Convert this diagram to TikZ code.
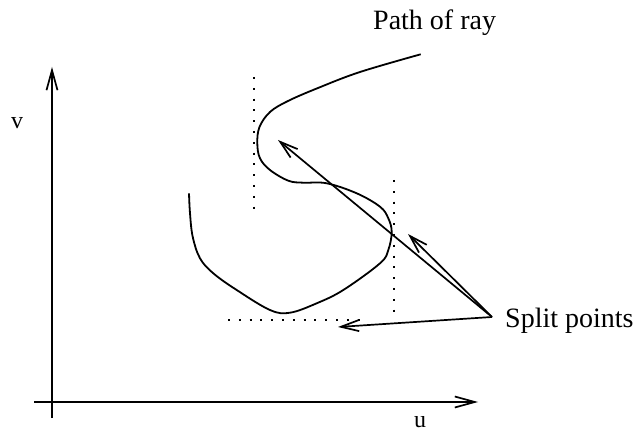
\documentclass[tikz,border=0pt]{standalone}
\usepackage{fontspec}
\setmainfont{Liberation Serif}
\usetikzlibrary{arrows.meta}
\tikzset{
  axis/.style={line width=1.7pt,-{Straight Barb[length=20pt,width=11pt,line width=1.7pt]}},
  ray/.style={line width=1.8pt},
  ptr/.style={line width=1.7pt,-{Straight Barb[length=18pt,width=11pt,line width=1.7pt]}},
  guide/.style={line width=2pt,dash pattern=on 2pt off 8.8pt},
  lbl/.style={inner sep=0pt,font=\fontsize{28}{30}\selectfont},
  axlbl/.style={inner sep=0pt,font=\fontsize{24}{26}\selectfont}
}
\begin{document}
\begin{tikzpicture}[x=1pt,y=-1pt]
\useasboundingbox (0,0) rectangle (641,441);
% axes
\coordinate (vb) at (52,418);
\coordinate (vt) at (52,67);
\coordinate (ul) at (34,402);
\coordinate (ur) at (478,402);
\draw[axis] (vb) -- (vt);
\draw[axis] (ul) -- (ur);
\node[axlbl] (v) at (17,123) {v};
\node[axlbl] (u) at (420,422) {u};
% dotted guides
\coordinate (g1a) at (254,77);
\coordinate (g1b) at (254,212);
\coordinate (g2a) at (394,180);
\coordinate (g2b) at (394,314);
\coordinate (g3a) at (228,320);
\coordinate (g3b) at (364,320);
\draw[guide] (g1a) -- (g1b);
\draw[guide] (g2a) -- (g2b);
\draw[guide] (g3a) -- (g3b);
% path of ray
\draw[ray] plot[smooth,tension=0.6] coordinates {
(420.7,54.3) (360,72) (318,88) (288,101) (270,112) (259.5,127)
(257.3,143.3) (260,158.3) (270,170) (288.3,180.7) (303.3,182.7) (326.7,183.3)
(356.7,193.3) (380,206.7) (388.3,218.3) (391.7,232) (388.3,250) (380,263.3)
(343.3,290) (316.7,303.3) (290,312.7) (270,310) (236.7,290) (213.3,273.3)
(200,258.3) (192.7,236.7) (190,213.3) (189,193.3)};
\node[lbl,anchor=base west] (title) at (373,30) {Path of ray};
% split points
\node[lbl,anchor=base west] (split) at (505,328) {Split points};
\coordinate (sp) at (492,317);
\coordinate (t1) at (278,140);
\coordinate (t2) at (408,234);
\coordinate (t3) at (338,327);
\draw[ptr] (sp) -- (t1);
\draw[ptr] (sp) -- (t2);
\draw[ptr] (sp) -- (t3);
\end{tikzpicture}
\end{document}
